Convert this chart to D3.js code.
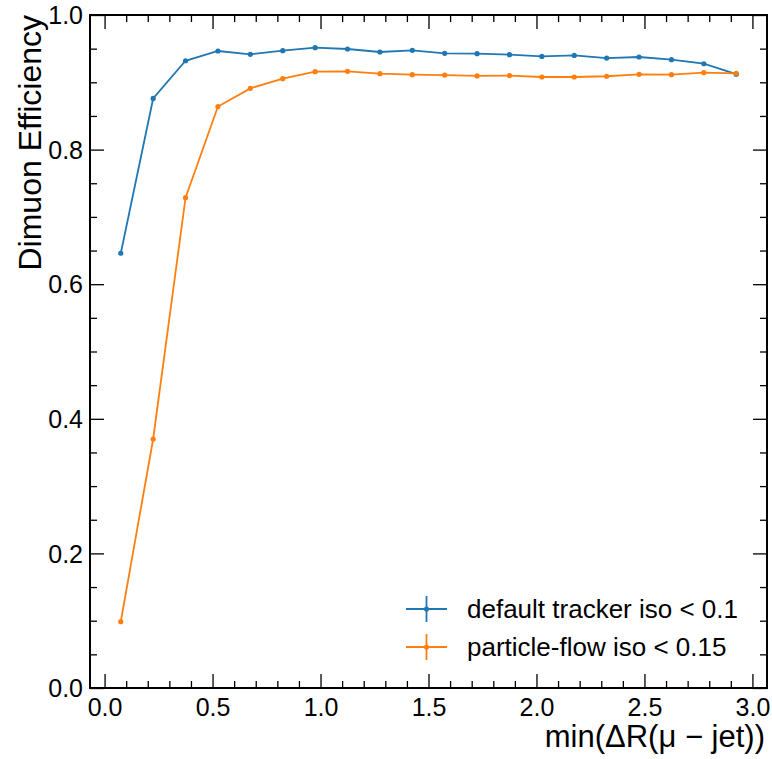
<!DOCTYPE html>
<html>
<head>
<meta charset="utf-8">
<script src="https://cdn.jsdelivr.net/npm/d3@7"></script>
<style>
  html, body { margin: 0; padding: 0; background: #fff; }
  svg { display: block; }
  text { font-family: "Liberation Sans", Arial, Helvetica, sans-serif; fill: #000; }
</style>
</head>
<body>
<svg id="chart" width="772" height="759"></svg>
<script>
// ---- data ----
const binCenters = [0.075, 0.225, 0.375, 0.525, 0.675, 0.825, 0.975, 1.125, 1.275, 1.425,
                    1.575, 1.725, 1.875, 2.025, 2.175, 2.325, 2.475, 2.625, 2.775, 2.925];
const trackerEff = [0.646, 0.876, 0.932, 0.9465, 0.9416, 0.947, 0.9514, 0.9495, 0.945, 0.9475,
                    0.943, 0.9425, 0.941, 0.9385, 0.940, 0.936, 0.9376, 0.9336, 0.9276, 0.912];
const pfEff      = [0.0985, 0.370, 0.7286, 0.864, 0.891, 0.9054, 0.9158, 0.9163, 0.9128, 0.9113,
                    0.9108, 0.9094, 0.910, 0.9079, 0.9079, 0.909, 0.9118, 0.9113, 0.9143, 0.9133];
const seriesNames = ["default tracker iso < 0.1", "particle-flow iso < 0.15"];
const seriesColors = ["#1f77b4", "#ff7f0e"];
const xTicks = [0.0, 0.5, 1.0, 1.5, 2.0, 2.5, 3.0];
const yTicks = [0.0, 0.2, 0.4, 0.6, 0.8, 1.0];
const xLabel = "min(ΔR(μ − jet))";
const yLabel = "Dimuon Efficiency";

// ---- layout ----
const svg = d3.select("#chart");
const L = 90, R = 767, T = 15, B = 688;
const x = d3.scaleLinear().domain([-0.0675, 3.0675]).range([L, R]);
const y = d3.scaleLinear().domain([0, 1]).range([B, T]);

const majorLen = 14, minorLen = 7;
const xMinor = d3.range(0, 3.0001, 0.1).filter(v => !xTicks.some(t => Math.abs(t - v) < 1e-6));
const yMinor = d3.range(0, 1.0001, 0.05).filter(v => !yTicks.some(t => Math.abs(t - v) < 1e-6));

const g = svg.append("g");

// axes with inward ticks (bottom/left labelled, top/right unlabelled)
function addAxis(axisGen, transform, ticks, len, labels) {
  const a = g.append("g").attr("transform", transform)
    .call(axisGen.tickValues(ticks).tickSize(-len).tickSizeOuter(0)
      .tickFormat(labels ? d3.format(".1f") : ""));
  a.select(".domain").remove();
  a.selectAll(".tick line").attr("stroke", "#000").attr("stroke-width", 1.3);
  return a;
}
const xb = addAxis(d3.axisBottom(x), `translate(0,${B})`, xTicks, majorLen, true);
addAxis(d3.axisBottom(x), `translate(0,${B})`, xMinor, minorLen, false);
addAxis(d3.axisTop(x), `translate(0,${T})`, xTicks, majorLen, false);
addAxis(d3.axisTop(x), `translate(0,${T})`, xMinor, minorLen, false);
const yl = addAxis(d3.axisLeft(y), `translate(${L},0)`, yTicks, majorLen, true);
addAxis(d3.axisLeft(y), `translate(${L},0)`, yMinor, minorLen, false);
addAxis(d3.axisRight(y), `translate(${R},0)`, yTicks, majorLen, false);
addAxis(d3.axisRight(y), `translate(${R},0)`, yMinor, minorLen, false);

xb.selectAll(".tick text").attr("y", 10).attr("dy", "0.71em")
  .style("font-size", "25px").style("font-family", "Liberation Sans, Arial, sans-serif");
yl.selectAll(".tick text").attr("x", -7).attr("dy", "0.35em")
  .style("font-size", "25px").style("font-family", "Liberation Sans, Arial, sans-serif");

// frame
g.append("rect").attr("x", L).attr("y", T).attr("width", R - L).attr("height", B - T)
  .attr("fill", "none").attr("stroke", "#000").attr("stroke-width", 2);

// axis labels
svg.append("text").attr("x", R - 2).attr("y", 747).attr("text-anchor", "end")
  .style("font-size", "31px").text(xLabel);
svg.append("text").attr("transform", `translate(41,${T}) rotate(-90)`)
  .attr("text-anchor", "end").style("font-size", "32px").text(yLabel);

// series
const allSeries = [trackerEff, pfEff];
const line = d3.line().x((d, i) => x(binCenters[i])).y(d => y(d));
allSeries.forEach((vals, k) => {
  const sg = g.append("g");
  sg.append("path").datum(vals).attr("d", line)
    .attr("fill", "none").attr("stroke", seriesColors[k]).attr("stroke-width", 1.8);
  sg.selectAll("circle").data(vals).join("circle")
    .attr("cx", (d, i) => x(binCenters[i])).attr("cy", d => y(d))
    .attr("r", 2.6).attr("fill", seriesColors[k]);
});

// legend
const legY = [609, 647];
seriesNames.forEach((name, k) => {
  const lg = svg.append("g");
  lg.append("line").attr("x1", 406).attr("x2", 447).attr("y1", legY[k]).attr("y2", legY[k])
    .attr("stroke", seriesColors[k]).attr("stroke-width", 1.8);
  lg.append("line").attr("x1", 426.5).attr("x2", 426.5).attr("y1", legY[k] - 13).attr("y2", legY[k] + 13)
    .attr("stroke", seriesColors[k]).attr("stroke-width", 1.8);
  lg.append("circle").attr("cx", 426.5).attr("cy", legY[k]).attr("r", 2.6).attr("fill", seriesColors[k]);
  lg.append("text").attr("x", 467).attr("y", legY[k]).attr("dy", "0.35em")
    .style("font-size", "26px").text(name);
});
</script>
</body>
</html>
